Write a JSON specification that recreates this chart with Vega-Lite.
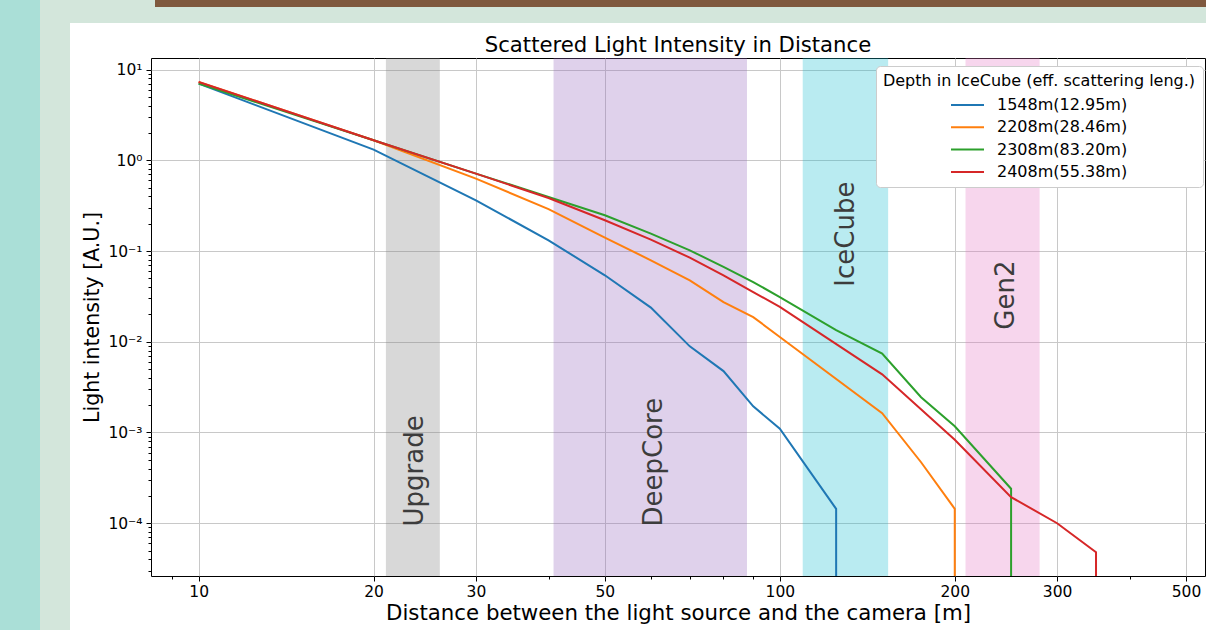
{
  "$schema": "https://vega.github.io/schema/vega-lite/v6.json",
  "background": "white",
  "padding": 0,
  "spacing": 0,
  "config": {
    "font": "DejaVu Sans",
    "view": {"stroke": null}
  },
  "datasets": {
    "blank": [{}],
    "bands": [
      {"name": "Upgrade", "x0": 21, "x1": 26, "color": "#7f7f7f"},
      {"name": "DeepCore", "x0": 40.8, "x1": 87.8, "color": "#9467bd"},
      {"name": "IceCube", "x0": 109.5, "x1": 153.6, "color": "#17becf"},
      {"name": "Gen2", "x0": 208.7, "x1": 279.9, "color": "#e377c2"}
    ],
    "labels": [
      {"label": "Upgrade", "x": 23.55, "y": 0.000092},
      {"label": "DeepCore", "x": 60.8, "y": 0.000092},
      {"label": "IceCube", "x": 129.8, "y": 0.0405},
      {"label": "Gen2", "x": 245, "y": 0.0136}
    ],
    "lines": [
      {"series": "1548m(12.95m)", "i": 0, "x": 10, "y": 7.0},
      {"series": "1548m(12.95m)", "i": 1, "x": 20, "y": 1.31},
      {"series": "1548m(12.95m)", "i": 2, "x": 30, "y": 0.362},
      {"series": "1548m(12.95m)", "i": 3, "x": 40, "y": 0.131},
      {"series": "1548m(12.95m)", "i": 4, "x": 50, "y": 0.054},
      {"series": "1548m(12.95m)", "i": 5, "x": 60, "y": 0.0238},
      {"series": "1548m(12.95m)", "i": 6, "x": 70, "y": 0.0089},
      {"series": "1548m(12.95m)", "i": 7, "x": 80, "y": 0.00475},
      {"series": "1548m(12.95m)", "i": 8, "x": 90, "y": 0.00194},
      {"series": "1548m(12.95m)", "i": 9, "x": 100, "y": 0.0011},
      {"series": "1548m(12.95m)", "i": 10, "x": 125, "y": 0.000144},
      {"series": "1548m(12.95m)", "i": 11, "x": 125, "y": 0.000001},
      {"series": "2208m(28.46m)", "i": 0, "x": 10, "y": 7.3},
      {"series": "2208m(28.46m)", "i": 1, "x": 20, "y": 1.66},
      {"series": "2208m(28.46m)", "i": 2, "x": 30, "y": 0.628},
      {"series": "2208m(28.46m)", "i": 3, "x": 40, "y": 0.29},
      {"series": "2208m(28.46m)", "i": 4, "x": 50, "y": 0.1406},
      {"series": "2208m(28.46m)", "i": 5, "x": 60, "y": 0.079},
      {"series": "2208m(28.46m)", "i": 6, "x": 70, "y": 0.0475},
      {"series": "2208m(28.46m)", "i": 7, "x": 80, "y": 0.0274},
      {"series": "2208m(28.46m)", "i": 8, "x": 90, "y": 0.0187},
      {"series": "2208m(28.46m)", "i": 9, "x": 100, "y": 0.0113},
      {"series": "2208m(28.46m)", "i": 10, "x": 150, "y": 0.00163},
      {"series": "2208m(28.46m)", "i": 11, "x": 175, "y": 0.00047},
      {"series": "2208m(28.46m)", "i": 12, "x": 200, "y": 0.000144},
      {"series": "2208m(28.46m)", "i": 13, "x": 200, "y": 0.000001},
      {"series": "2308m(83.20m)", "i": 0, "x": 10, "y": 7.0},
      {"series": "2308m(83.20m)", "i": 1, "x": 20, "y": 1.66},
      {"series": "2308m(83.20m)", "i": 2, "x": 30, "y": 0.713},
      {"series": "2308m(83.20m)", "i": 3, "x": 40, "y": 0.394},
      {"series": "2308m(83.20m)", "i": 4, "x": 50, "y": 0.2475},
      {"series": "2308m(83.20m)", "i": 5, "x": 60, "y": 0.1556},
      {"series": "2308m(83.20m)", "i": 6, "x": 70, "y": 0.1018},
      {"series": "2308m(83.20m)", "i": 7, "x": 80, "y": 0.0667},
      {"series": "2308m(83.20m)", "i": 8, "x": 90, "y": 0.0455},
      {"series": "2308m(83.20m)", "i": 9, "x": 100, "y": 0.0311},
      {"series": "2308m(83.20m)", "i": 10, "x": 125, "y": 0.0134},
      {"series": "2308m(83.20m)", "i": 11, "x": 150, "y": 0.0074},
      {"series": "2308m(83.20m)", "i": 12, "x": 175, "y": 0.00245},
      {"series": "2308m(83.20m)", "i": 13, "x": 200, "y": 0.00117},
      {"series": "2308m(83.20m)", "i": 14, "x": 250, "y": 0.00024},
      {"series": "2308m(83.20m)", "i": 15, "x": 250, "y": 0.000001},
      {"series": "2408m(55.38m)", "i": 0, "x": 10, "y": 7.3},
      {"series": "2408m(55.38m)", "i": 1, "x": 20, "y": 1.66},
      {"series": "2408m(55.38m)", "i": 2, "x": 30, "y": 0.713},
      {"series": "2408m(55.38m)", "i": 3, "x": 40, "y": 0.384},
      {"series": "2408m(55.38m)", "i": 4, "x": 50, "y": 0.218},
      {"series": "2408m(55.38m)", "i": 5, "x": 60, "y": 0.1336},
      {"series": "2408m(55.38m)", "i": 6, "x": 70, "y": 0.0845},
      {"series": "2408m(55.38m)", "i": 7, "x": 80, "y": 0.054},
      {"series": "2408m(55.38m)", "i": 8, "x": 90, "y": 0.0353},
      {"series": "2408m(55.38m)", "i": 9, "x": 100, "y": 0.0242},
      {"series": "2408m(55.38m)", "i": 10, "x": 150, "y": 0.00437},
      {"series": "2408m(55.38m)", "i": 11, "x": 200, "y": 0.00083},
      {"series": "2408m(55.38m)", "i": 12, "x": 250, "y": 0.000194},
      {"series": "2408m(55.38m)", "i": 13, "x": 300, "y": 0.0001},
      {"series": "2408m(55.38m)", "i": 14, "x": 350, "y": 0.000048},
      {"series": "2408m(55.38m)", "i": 15, "x": 350, "y": 0.000001}
    ]
  },
  "hconcat": [
    {"width": 40, "height": 630, "data": {"name": "blank"}, "mark": {"type": "point", "opacity": 0, "size": 0, "strokeWidth": 0}, "view": {"fill": "#aadfd7", "stroke": null}},
    {"width": 30, "height": 630, "data": {"name": "blank"}, "mark": {"type": "point", "opacity": 0, "size": 0, "strokeWidth": 0}, "view": {"fill": "#d3e6db", "stroke": null}},
    {
      "spacing": 11,
      "vconcat": [
        {
          "spacing": 0,
          "vconcat": [
            {
              "spacing": 0,
              "hconcat": [
                {"width": 85, "height": 7, "data": {"name": "blank"}, "mark": {"type": "point", "opacity": 0, "size": 0, "strokeWidth": 0}, "view": {"fill": "#d3e6db", "stroke": null}},
                {"width": 1051, "height": 7, "data": {"name": "blank"}, "mark": {"type": "point", "opacity": 0, "size": 0, "strokeWidth": 0}, "view": {"fill": "#7f593e", "stroke": null}}
              ]
            },
            {"width": 1136, "height": 16, "data": {"name": "blank"}, "mark": {"type": "point", "opacity": 0, "size": 0, "strokeWidth": 0}, "view": {"fill": "#d3e6db", "stroke": null}}
          ]
        },
        {
          "spacing": 0,
          "hconcat": [
            {"width": 12, "height": 8, "data": {"name": "blank"}, "mark": {"type": "point", "opacity": 0, "size": 0, "strokeWidth": 0}},
            {
              "width": 1054,
              "height": 518,
              "view": {"stroke": "#000", "strokeWidth": 1},
              "title": {"text": "Scattered Light Intensity in Distance", "fontSize": 21.2, "fontWeight": "normal", "color": "#000", "offset": 2.3, "anchor": "middle", "frame": "group"},
              "layer": [
                {
                  "data": {"name": "bands"},
                  "mark": {"type": "rect", "opacity": 0.3},
                  "encoding": {
                    "x": {
                      "field": "x0", "type": "quantitative",
                      "title": "Distance between the light source and the camera [m]",
                      "scale": {"type": "log", "domain": [8.28, 539], "nice": false},
                      "axis": {
                        "values": [9, 10, 20, 30, 40, 50, 60, 70, 80, 90, 100, 200, 300, 400, 500],
                        "labelExpr": "indexof([10,20,30,50,100,200,300,500], datum.value) >= 0 ? format(datum.value, 'd') : ''",
                        "labelFontSize": 15.5,
                        "labelColor": "#000",
                        "labelFlush": false,
                        "labelOverlap": false,
                        "labelPadding": 3,
                        "tickColor": "#000",
                        "tickWidth": 1,
                        "tickSize": {"condition": {"test": "indexof([10,20,30,50,100,200,300,500], datum.value) < 0", "value": 3}, "value": 5},
                        "gridColor": "#c8c8c8",
                        "gridOpacity": {"condition": {"test": "indexof([10,20,30,50,100,200,300,500], datum.value) < 0", "value": 0}, "value": 1},
                        "domain": false,
                        "titleFontSize": 21.3,
                        "titleFontWeight": "normal",
                        "titleColor": "#000",
                        "titlePadding": 3
                      }
                    },
                    "x2": {"field": "x1"},
                    "fill": {"field": "color", "type": "nominal", "scale": null}
                  }
                },
                {
                  "data": {"name": "labels"},
                  "mark": {"type": "text", "angle": 270, "align": "left", "baseline": "middle", "fontSize": 26, "fill": "#3c3c3c"},
                  "encoding": {
                    "x": {"field": "x", "type": "quantitative", "title": "Distance between the light source and the camera [m]"},
                    "y": {"field": "y", "type": "quantitative", "title": "Light intensity [A.U.]", "scale": {"type": "log", "domain": [0.0000262, 13.4], "nice": false}},
                    "text": {"field": "label"}
                  }
                },
                {
                  "data": {"name": "lines"},
                  "mark": {"type": "line", "strokeWidth": 2, "clip": true},
                  "encoding": {
                    "x": {"field": "x", "type": "quantitative", "title": "Distance between the light source and the camera [m]"},
                    "y": {
                      "field": "y", "type": "quantitative",
                      "title": "Light intensity [A.U.]",
                      "scale": {"type": "log", "domain": [0.0000262, 13.4], "nice": false},
                      "axis": {
                        "values": [0.00003, 0.00004, 0.00005, 0.00006, 0.00007, 0.00008, 0.00009, 0.0001, 0.0002, 0.0003, 0.0004, 0.0005, 0.0006, 0.0007, 0.0008, 0.0009, 0.001, 0.002, 0.003, 0.004, 0.005, 0.006, 0.007, 0.008, 0.009, 0.01, 0.02, 0.03, 0.04, 0.05, 0.06, 0.07, 0.08, 0.09, 0.1, 0.2, 0.3, 0.4, 0.5, 0.6, 0.7, 0.8, 0.9, 1, 2, 3, 4, 5, 6, 7, 8, 9, 10],
                        "labelExpr": "datum.value == 10 ? '10¹' : datum.value == 1 ? '10⁰' : datum.value == 0.1 ? '10⁻¹' : datum.value == 0.01 ? '10⁻²' : datum.value == 0.001 ? '10⁻³' : datum.value == 0.0001 ? '10⁻⁴' : ''",
                        "labelFontSize": 15.5,
                        "labelColor": "#000",
                        "labelOverlap": false,
                        "labelFlush": false,
                        "labelPadding": 4,
                        "tickColor": "#000",
                        "tickWidth": 1,
                        "tickSize": {"condition": {"test": "indexof([0.0001,0.001,0.01,0.1,1,10], datum.value) < 0", "value": 3}, "value": 5},
                        "gridColor": "#c8c8c8",
                        "gridOpacity": {"condition": {"test": "indexof([0.0001,0.001,0.01,0.1,1,10], datum.value) < 0", "value": 0}, "value": 1},
                        "domain": false,
                        "titleFontSize": 20.5,
                        "titleFontWeight": "normal",
                        "titleColor": "#000",
                        "titlePadding": 5
                      }
                    },
                    "color": {
                      "field": "series", "type": "nominal",
                      "scale": {"domain": ["1548m(12.95m)", "2208m(28.46m)", "2308m(83.20m)", "2408m(55.38m)"], "range": ["#1f77b4", "#ff7f0e", "#2ca02c", "#d62728"]},
                      "legend": {
                        "title": "Depth in IceCube (eff. scattering leng.)",
                        "orient": "none",
                        "legendX": 876,
                        "legendY": 66,
                        "symbolType": "M-1.65,0H1.65",
                        "symbolSize": 400,
                        "symbolStrokeWidth": 2,
                        "symbolOffset": 6.5,
                        "labelOffset": 18.5,
                        "labelFontSize": 16,
                        "labelColor": "#000",
                        "titleFontSize": 16,
                        "titleFontWeight": "normal",
                        "titleColor": "#000",
                        "titleAnchor": "middle",
                        "titleLimit": 0,
                        "labelLimit": 0,
                        "titlePadding": 5,
                        "rowPadding": 3.3,
                        "padding": 7,
                        "fillColor": "white",
                        "strokeColor": "#cccccc",
                        "cornerRadius": 4
                      }
                    },
                    "order": {"field": "i", "type": "quantitative"}
                  }
                }
              ]
            }
          ]
        }
      ]
    }
  ]
}
